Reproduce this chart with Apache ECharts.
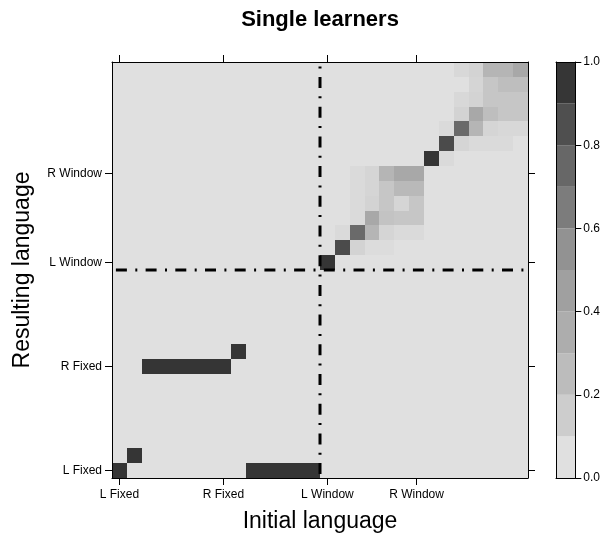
<!DOCTYPE html>
<html>
<head>
<meta charset="utf-8">
<script src="https://cdn.jsdelivr.net/npm/echarts@6/dist/echarts.min.js"></script>
<style>
  html, body { margin: 0; padding: 0; background: #ffffff; }
  #chart { width: 603px; height: 538px; }
</style>
</head>
<body>
<div id="chart"></div>
<script>
// Language levels along both axes (28 levels, named ones get a tick)
const levelCount = 28;
const tickAt = [0, 7, 14, 20];
const tickLabels = ['L Fixed', 'R Fixed', 'L Window', 'R Window'];

// Proportion of learners: shares[resulting][initial]
const shares = [
  [1,0,0,0,0,0,0, 0,0,1,1,1,1,1, 0,0,0,0,0,0,0, 0,0,0,0,0,0,0],
  [0,1,0,0,0,0,0, 0,0,0,0,0,0,0, 0,0,0,0,0,0,0, 0,0,0,0,0,0,0],
  [0,0,0,0,0,0,0, 0,0,0,0,0,0,0, 0,0,0,0,0,0,0, 0,0,0,0,0,0,0],
  [0,0,0,0,0,0,0, 0,0,0,0,0,0,0, 0,0,0,0,0,0,0, 0,0,0,0,0,0,0],
  [0,0,0,0,0,0,0, 0,0,0,0,0,0,0, 0,0,0,0,0,0,0, 0,0,0,0,0,0,0],
  [0,0,0,0,0,0,0, 0,0,0,0,0,0,0, 0,0,0,0,0,0,0, 0,0,0,0,0,0,0],
  [0,0,0,0,0,0,0, 0,0,0,0,0,0,0, 0,0,0,0,0,0,0, 0,0,0,0,0,0,0],
  [0,0,1,1,1,1,1, 1,0,0,0,0,0,0, 0,0,0,0,0,0,0, 0,0,0,0,0,0,0],
  [0,0,0,0,0,0,0, 0,1,0,0,0,0,0, 0,0,0,0,0,0,0, 0,0,0,0,0,0,0],
  [0,0,0,0,0,0,0, 0,0,0,0,0,0,0, 0,0,0,0,0,0,0, 0,0,0,0,0,0,0],
  [0,0,0,0,0,0,0, 0,0,0,0,0,0,0, 0,0,0,0,0,0,0, 0,0,0,0,0,0,0],
  [0,0,0,0,0,0,0, 0,0,0,0,0,0,0, 0,0,0,0,0,0,0, 0,0,0,0,0,0,0],
  [0,0,0,0,0,0,0, 0,0,0,0,0,0,0, 0,0,0,0,0,0,0, 0,0,0,0,0,0,0],
  [0,0,0,0,0,0,0, 0,0,0,0,0,0,0, 0,0,0,0,0,0,0, 0,0,0,0,0,0,0],
  [0,0,0,0,0,0,0, 0,0,0,0,0,0,0, 1,0,0,0,0,0,0, 0,0,0,0,0,0,0],
  [0,0,0,0,0,0,0, 0,0,0,0,0,0,0, 0,.87,.11,.03,.03,0,0, 0,0,0,0,0,0,0],
  [0,0,0,0,0,0,0, 0,0,0,0,0,0,0, 0,.05,.74,.31,.09,.05,.05, 0,0,0,0,0,0,0],
  [0,0,0,0,0,0,0, 0,0,0,0,0,0,0, 0,0,.05,.4,.22,.2,.2, 0,0,0,0,0,0,0],
  [0,0,0,0,0,0,0, 0,0,0,0,0,0,0, 0,0,.05,.11,.2,.09,.2, 0,0,0,0,0,0,0],
  [0,0,0,0,0,0,0, 0,0,0,0,0,0,0, 0,0,.05,.09,.2,.28,.28, 0,0,0,0,0,0,0],
  [0,0,0,0,0,0,0, 0,0,0,0,0,0,0, 0,0,.05,.09,.31,.4,.4, 0,0,0,0,0,0,0],
  [0,0,0,0,0,0,0, 0,0,0,0,0,0,0, 0,0,0,0,0,0,0, 1,.05,0,0,0,0,0],
  [0,0,0,0,0,0,0, 0,0,0,0,0,0,0, 0,0,0,0,0,0,0, 0,.87,.09,.05,.05,.05,0],
  [0,0,0,0,0,0,0, 0,0,0,0,0,0,0, 0,0,0,0,0,0,0, 0,.05,.74,.31,.09,.07,.07],
  [0,0,0,0,0,0,0, 0,0,0,0,0,0,0, 0,0,0,0,0,0,0, 0,0,.11,.4,.25,.2,.2],
  [0,0,0,0,0,0,0, 0,0,0,0,0,0,0, 0,0,0,0,0,0,0, 0,0,.07,.11,.2,.2,.2],
  [0,0,0,0,0,0,0, 0,0,0,0,0,0,0, 0,0,0,0,0,0,0, 0,0,0,.09,.2,.25,.25],
  [0,0,0,0,0,0,0, 0,0,0,0,0,0,0, 0,0,0,0,0,0,0, 0,0,.07,.11,.31,.31,.4]
];

// Boundary between the fixed and the window languages
const splitAt = 14;

// Colour key: break points and one grey per interval
const keyBreaks = [0, 0.1, 0.2, 0.3, 0.4, 0.5, 0.6, 0.7, 0.8, 0.9, 1.0];
const keyColors = ['#e0e0e0', '#cdcdcd', '#bcbcbc', '#adadad', '#a0a0a0',
                   '#929292', '#7c7c7c', '#676767', '#4f4f4f', '#363636'];
// Grey ramp for the cells, stops at 0, 0.1, ..., 1
const rampColors = ['#e0e0e0', '#d4d4d4', '#c6c6c6', '#b6b6b6', '#a8a8a8', '#9b9b9b',
                    '#8a8a8a', '#747474', '#5c5c5c', '#444444', '#353535'];

const FONT = "'Liberation Sans', Arial, Helvetica, sans-serif";
const levels = [];
for (let i = 0; i < levelCount; i++) levels.push(String(i));

const cells = [];
shares.forEach((row, r) => row.forEach((v, c) => cells.push([c, r, v])));

const showTick = (idx) => tickAt.indexOf(idx) >= 0;
const tickName = (v) => {
  const k = tickAt.indexOf(Number(v));
  return k >= 0 ? tickLabels[k] : '';
};
const edge = { show: true, onZero: false, lineStyle: { color: '#000', width: 1 } };

function levelAxis(position, labelled, margin) {
  return {
    type: 'category', gridIndex: 0, position: position, data: levels, z: 10,
    axisLine: edge,
    axisTick: { show: true, alignWithLabel: true, interval: showTick, length: 7,
                lineStyle: { color: '#000', width: 1 } },
    axisLabel: { show: labelled, interval: showTick, formatter: tickName,
                 fontFamily: FONT, fontSize: 12, color: '#000', margin: margin },
    splitLine: { show: false }
  };
}

// Each cell is snapped to whole pixels so neighbouring cells meet without seams
function renderCell(params, api) {
  const centre = api.coord([api.value(0), api.value(1)]);
  const band = api.size([1, 1]);
  const x0 = Math.round(centre[0] - band[0] / 2);
  const x1 = Math.round(centre[0] + band[0] / 2);
  const y0 = Math.round(centre[1] - band[1] / 2);
  const y1 = Math.round(centre[1] + band[1] / 2);
  return {
    type: 'rect',
    shape: { x: x0, y: y0, width: x1 - x0, height: y1 - y0 },
    style: { fill: api.visual('color') }
  };
}

const keyBars = keyColors.map((col, i) => ({
  type: 'bar', xAxisIndex: 3, yAxisIndex: 3, stack: 'key', barWidth: '100%',
  silent: true, animation: false,
  itemStyle: { color: col },
  data: [keyBreaks[i + 1] - keyBreaks[i]]
}));

const dividerStyle = { color: '#000', width: 3, type: [2, 8.3, 11, 8.4], dashOffset: 6.4, cap: 'butt' };

const option = {
  backgroundColor: '#ffffff',
  animation: false,
  grid: [
    { left: 112, top: 62, width: 416, height: 416 },
    { left: 112, top: 62, width: 416, height: 416 },
    { left: 556, top: 62, width: 21, height: 416 }
  ],
  xAxis: [
    levelAxis('bottom', true, 11),
    levelAxis('top', false, 8),
    { type: 'value', gridIndex: 1, min: 0, max: levelCount, show: false },
    { type: 'category', gridIndex: 2, position: 'bottom', data: [''], z: 10,
      axisLine: edge, axisTick: { show: false }, axisLabel: { show: false } },
    { type: 'category', gridIndex: 2, position: 'top', data: [''], z: 10,
      axisLine: edge, axisTick: { show: false }, axisLabel: { show: false } }
  ],
  yAxis: [
    levelAxis('left', true, 10),
    levelAxis('right', false, 8),
    { type: 'value', gridIndex: 1, min: 0, max: levelCount, show: false },
    { type: 'value', gridIndex: 2, position: 'right', min: 0, max: 1, interval: 0.2, z: 10,
      axisLine: edge,
      axisTick: { show: true, length: 6, lineStyle: { color: '#000' } },
      axisLabel: { fontFamily: FONT, fontSize: 12, color: '#000', margin: 8,
                   formatter: (v) => v.toFixed(1) },
      splitLine: { show: false } },
    { type: 'value', gridIndex: 2, position: 'left', min: 0, max: 1, z: 10,
      axisLine: edge, axisTick: { show: false }, axisLabel: { show: false },
      splitLine: { show: false } }
  ],
  visualMap: {
    type: 'continuous', show: false, seriesIndex: 0, dimension: 2, min: 0, max: 1,
    inRange: { color: rampColors }
  },
  series: [
    { type: 'custom', xAxisIndex: 0, yAxisIndex: 0, data: cells, silent: true,
      encode: { x: 0, y: 1 }, renderItem: renderCell },
    { type: 'line', xAxisIndex: 2, yAxisIndex: 2, silent: true, showSymbol: false,
      lineStyle: dividerStyle,
      data: [[splitAt, 0], [splitAt, levelCount]] },
    { type: 'line', xAxisIndex: 2, yAxisIndex: 2, silent: true, showSymbol: false,
      lineStyle: dividerStyle,
      data: [[0, splitAt], [levelCount, splitAt]] }
  ].concat(keyBars),
  graphic: [
    { type: 'text', x: 320, y: 20,
      style: { text: 'Single learners', fontFamily: FONT, fontSize: 22, fontWeight: 'bold',
               fill: '#000', align: 'center', verticalAlign: 'middle' } },
    { type: 'text', x: 320, y: 522,
      style: { text: 'Initial language', fontFamily: FONT, fontSize: 23,
               fill: '#000', align: 'center', verticalAlign: 'middle' } },
    { type: 'text', x: 23, y: 270, rotation: Math.PI / 2,
      style: { text: 'Resulting language', fontFamily: FONT, fontSize: 23,
               fill: '#000', align: 'center', verticalAlign: 'middle' } }
  ]
};

const chart = echarts.init(document.getElementById('chart'), null, { renderer: 'canvas' });
chart.setOption(option);
</script>
</body>
</html>
